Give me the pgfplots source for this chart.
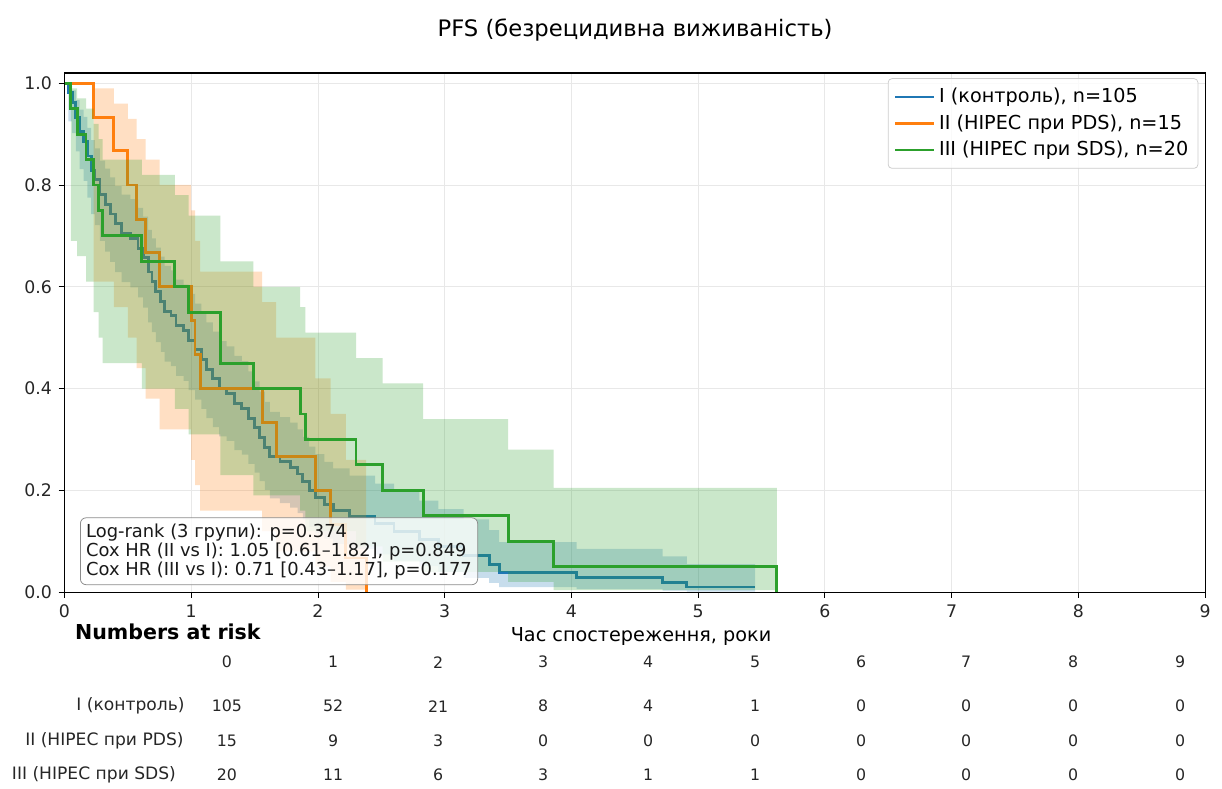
\documentclass[border=0pt]{standalone}
\usepackage{fontspec}
\setmainfont{DejaVu Sans}
\usepackage{pgfplots}
\usepackage{pgfplotstable}
\pgfplotsset{compat=1.18}
\definecolor{tabblue}{HTML}{1F77B4}
\definecolor{taborange}{HTML}{FF7F0E}
\definecolor{tabgreen}{HTML}{2CA02C}

% Kaplan-Meier curves (time, survival)
\pgfplotstableread{
t S
0.00 1.000
0.03 0.981
0.06 0.962
0.09 0.933
0.12 0.905
0.15 0.886
0.18 0.857
0.21 0.829
0.24 0.810
0.28 0.781
0.32 0.762
0.36 0.743
0.40 0.724
0.45 0.705
0.52 0.695
0.58 0.676
0.62 0.657
0.66 0.629
0.69 0.610
0.72 0.590
0.76 0.571
0.79 0.552
0.84 0.543
0.88 0.524
0.94 0.514
0.98 0.495
1.03 0.476
1.08 0.457
1.12 0.438
1.17 0.419
1.22 0.400
1.28 0.390
1.34 0.371
1.40 0.361
1.45 0.342
1.50 0.323
1.54 0.304
1.58 0.285
1.62 0.266
1.70 0.256
1.78 0.245
1.84 0.232
1.88 0.218
1.93 0.200
1.98 0.186
2.05 0.172
2.12 0.160
2.25 0.148
2.45 0.134
2.60 0.119
2.80 0.104
2.95 0.089
3.15 0.072
3.35 0.055
3.43 0.038
4.04 0.029
4.72 0.019
4.91 0.010
5.45 0.010
}\bluetab

\pgfplotstableread{
t S
0.00 1.000
0.23 0.933
0.39 0.867
0.50 0.800
0.57 0.733
0.64 0.667
0.75 0.600
1.00 0.533
1.03 0.467
1.07 0.400
1.56 0.333
1.67 0.267
1.98 0.200
2.10 0.133
2.22 0.067
2.38 0.000
}\orangetab

\pgfplotstableread{
t S
0.00 1.00
0.05 0.95
0.10 0.90
0.17 0.85
0.23 0.80
0.27 0.75
0.30 0.70
0.61 0.65
0.87 0.60
0.98 0.55
1.23 0.45
1.49 0.40
1.86 0.35
1.90 0.30
2.30 0.25
2.51 0.20
2.83 0.15
3.50 0.10
3.86 0.05
5.62 0.00
}\greentab

% 95% CI bands: upper bound forward, then lower bound backward (closed step outline)
\pgfplotstableread{
x y
0.00 1.000
0.03 0.995
0.06 0.986
0.09 0.967
0.12 0.948
0.15 0.934
0.18 0.912
0.21 0.888
0.24 0.872
0.28 0.848
0.32 0.832
0.36 0.815
0.40 0.798
0.45 0.781
0.52 0.772
0.58 0.755
0.62 0.738
0.66 0.712
0.69 0.695
0.72 0.677
0.76 0.659
0.79 0.641
0.84 0.632
0.88 0.614
0.94 0.604
0.98 0.586
1.03 0.567
1.08 0.549
1.12 0.530
1.17 0.512
1.22 0.493
1.28 0.483
1.34 0.464
1.40 0.454
1.45 0.434
1.50 0.414
1.54 0.394
1.58 0.374
1.62 0.354
1.70 0.344
1.78 0.333
1.84 0.320
1.88 0.305
1.93 0.286
1.98 0.271
2.05 0.256
2.12 0.243
2.25 0.229
2.45 0.213
2.60 0.197
2.80 0.180
2.95 0.163
3.15 0.143
3.35 0.122
3.43 0.098
4.04 0.085
4.72 0.070
4.91 0.055
5.45 0.001
4.91 0.003
4.72 0.006
4.04 0.010
3.43 0.018
3.35 0.028
3.15 0.040
2.95 0.051
2.80 0.062
2.60 0.074
2.45 0.085
2.25 0.095
2.12 0.105
2.05 0.116
1.98 0.128
1.93 0.143
1.88 0.155
1.84 0.166
1.78 0.175
1.70 0.184
1.62 0.201
1.58 0.218
1.54 0.235
1.50 0.252
1.45 0.270
1.40 0.279
1.34 0.297
1.28 0.306
1.22 0.324
1.17 0.342
1.12 0.360
1.08 0.378
1.03 0.397
0.98 0.415
0.94 0.425
0.88 0.444
0.84 0.453
0.79 0.472
0.76 0.491
0.72 0.511
0.69 0.530
0.66 0.559
0.62 0.579
0.58 0.599
0.52 0.609
0.45 0.629
0.40 0.649
0.36 0.669
0.32 0.690
0.28 0.721
0.24 0.743
0.21 0.775
0.18 0.808
0.15 0.831
0.12 0.866
0.09 0.902
0.06 0.925
0.03 1.000
0.00 1.000
}\blueband

\pgfplotstableread{
x y
0.00 1.000
0.23 0.990
0.39 0.960
0.50 0.930
0.57 0.890
0.64 0.850
0.75 0.800
1.00 0.750
1.03 0.690
1.07 0.630
1.56 0.570
1.67 0.500
1.98 0.420
2.10 0.350
2.22 0.260
2.38 0.005
2.22 0.020
2.10 0.050
1.98 0.080
1.67 0.120
1.56 0.160
1.07 0.210
1.03 0.260
1.00 0.320
0.75 0.380
0.64 0.440
0.57 0.500
0.50 0.560
0.39 0.610
0.23 1.000
0.00 1.000
}\orangeband

\pgfplotstableread{
x y
0.00 1.000
0.05 0.990
0.10 0.970
0.17 0.950
0.23 0.920
0.27 0.890
0.30 0.850
0.61 0.820
0.87 0.780
0.98 0.740
1.23 0.650
1.49 0.600
1.86 0.560
1.90 0.510
2.30 0.460
2.51 0.410
2.83 0.340
3.50 0.280
3.86 0.205
5.62 0.004
3.86 0.020
3.50 0.040
2.83 0.060
2.51 0.090
2.30 0.120
1.90 0.160
1.86 0.190
1.49 0.230
1.23 0.310
0.98 0.360
0.87 0.400
0.61 0.450
0.30 0.500
0.27 0.550
0.23 0.610
0.17 0.660
0.10 0.690
0.05 1.000
0.00 1.000
}\greenband

\begin{document}
\begin{tikzpicture}
\useasboundingbox (0,0) rectangle (635.4pt,409.8pt);
\begin{axis}[
  at={(33.54pt,101.92pt)}, anchor=south west,
  width=593.1pt, height=269.9pt, scale only axis,
  xmin=0, xmax=9, ymin=0, ymax=1.02,
  xtick={0,1,2,3,4,5,6,7,8,9},
  ytick={0,0.2,0.4,0.6,0.8,1.0},
  yticklabel style={/pgf/number format/fixed,/pgf/number format/fixed zerofill,/pgf/number format/precision=1},
  /pgf/number format/assume math mode=true,
  ticklabel style={font=\fontsize{9}{11}\selectfont, text=black!85},
  grid=major, grid style={black!9, line width=0.5pt},
  tick align=outside, tick pos=left, major tick length=3pt,
  tick style={black, line width=0.5pt},
  axis line style={line width=0.6pt},
  legend style={at={(0.994,0.99)}, anchor=north east,
    draw=black!20, rounded corners=2pt, fill=white, fill opacity=0.8, text opacity=1,
    font=\fontsize{10}{12}\selectfont, row sep=0.7pt, inner sep=3pt},
  legend cell align=left,
  legend image code/.code={\draw[#1] (0pt,0pt) -- (20pt,0pt);},
]
\addplot[const plot, fill=tabblue, fill opacity=0.25, draw=none, forget plot] table[x=x,y=y]{\blueband};
\addplot[tabblue, line width=1.5pt, const plot, forget plot] table[x=t,y=S]{\bluetab};
\addplot[const plot, fill=taborange, fill opacity=0.25, draw=none, forget plot] table[x=x,y=y]{\orangeband};
\addplot[taborange, line width=1.5pt, const plot, forget plot] table[x=t,y=S]{\orangetab};
\addplot[const plot, fill=tabgreen, fill opacity=0.25, draw=none, forget plot] table[x=x,y=y]{\greenband};
\addplot[tabgreen, line width=1.5pt, const plot, forget plot] table[x=t,y=S]{\greentab};

\addlegendimage{tabblue, line width=1.5pt}
\addlegendentry{I (контроль), n=105}
\addlegendimage{taborange, line width=1.5pt}
\addlegendentry{II (HIPEC при PDS), n=15}
\addlegendimage{tabgreen, line width=1.5pt}
\addlegendentry{III (HIPEC при SDS), n=20}

\node[anchor=south west, draw=black!45, rounded corners=3pt, fill=white, fill opacity=0.8, text opacity=1,
  align=left, font=\fontsize{9.3}{9.9}\selectfont, inner sep=3pt, text=black!90]
  at (axis description cs:0.0136,0.0135)
  {Log-rank (3 групи): p=0.374\\Cox HR (II vs I): 1.05 [0.61–1.82], p=0.849\\Cox HR (III vs I): 0.71 [0.43–1.17], p=0.177};
\end{axis}

\node[font=\fontsize{11.8}{14}\selectfont] at (330.2pt,394.2pt) {PFS (безрецидивна виживаність)};
\node[font=\fontsize{10}{12}\selectfont] at (333.3pt,79pt) {Час спостереження, роки};
\node[anchor=west, font=\bfseries\fontsize{10.7}{13}\selectfont] at (35.5pt,81.1pt) {Numbers at risk};

\begin{scope}[every node/.style={font=\fontsize{8.2}{10}\selectfont, text=black!85}]
\foreach \v/\x in {0/118.0,1/173.2,2/227.8,3/282.4,4/337.0,5/392.6,6/447.7,7/502.3,8/558.0,9/613.6}
  \node at (\x pt,65.5pt) {\v};
\node[anchor=east, font=\fontsize{8.9}{10}\selectfont] at (99.5pt,42.6pt) {I (контроль)};
\node[anchor=east, font=\fontsize{8.9}{10}\selectfont] at (99pt,24.4pt) {II (HIPEC при PDS)};
\node[anchor=east, font=\fontsize{8.9}{10}\selectfont] at (95pt,6.8pt) {III (HIPEC при SDS)};
\foreach \v/\x in {105/118.0,52/173.2,21/227.8,8/282.4,4/337.0,1/392.6,0/447.7,0/502.3,0/558.0,0/613.6}
  \node at (\x pt,42.6pt) {\v};
\foreach \v/\x in {15/118.0,9/173.2,3/227.8,0/282.4,0/337.0,0/392.6,0/447.7,0/502.3,0/558.0,0/613.6}
  \node at (\x pt,24.4pt) {\v};
\foreach \v/\x in {20/118.0,11/173.2,6/227.8,3/282.4,1/337.0,1/392.6,0/447.7,0/502.3,0/558.0,0/613.6}
  \node at (\x pt,6.8pt) {\v};
\end{scope}
\end{tikzpicture}
\end{document}
